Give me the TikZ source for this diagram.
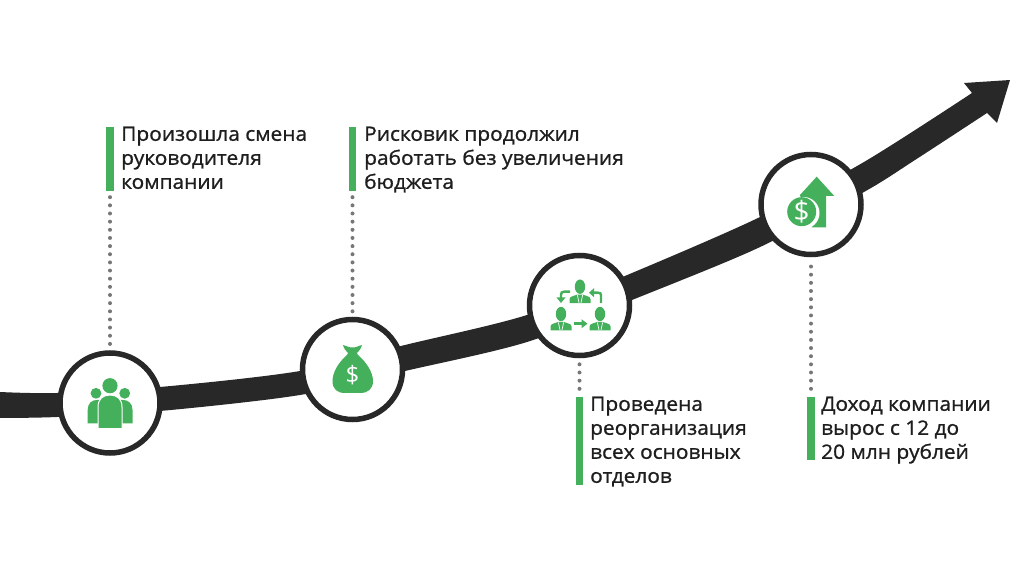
\documentclass[tikz,border=0pt]{standalone}
\usepackage{fontspec}
\setmainfont{Open Sans}[FakeStretch=1.06,FakeBold=1]
\newfontfamily\iconfont{Open Sans}
\usetikzlibrary{calc}
\definecolor{road}{HTML}{282828}
\definecolor{leaf}{HTML}{45B05C}
\definecolor{dotgray}{HTML}{777777}
\definecolor{ink}{HTML}{1E1E1E}
\tikzset{
  x=1pt,y=-1pt,
  stage/.style={circle,draw=road,line width=5.5pt,fill=white,minimum size=100pt,inner sep=0pt},
  bar/.style={rectangle,fill=leaf,minimum width=7.5pt,inner sep=0pt},
  caption/.style={anchor=north west,inner sep=0pt,align=left,text=ink,font=\fontsize{19.7}{24}\selectfont},
  dots/.style={draw=dotgray,line width=4pt,line cap=round,dash pattern=on 0pt off 8.15pt},
  tick/.style={draw=leaf,line width=2.4pt},
  person/.pic={
    \fill[leaf] (0,0) ellipse[x radius=5.2,y radius=7.2];
    \fill[leaf] (-10.5,16.5) -- (-10.5,12.5) .. controls (-10.5,9.5) and (-6,9.5) .. (-3,8) -- (3,8) .. controls (6,9.5) and (10.5,9.5) .. (10.5,12.5) -- (10.5,16.5) -- cycle;
    \draw[white,line width=.7pt] (-2.6,8.5) -- (-1,16) (2.6,8.5) -- (1,16);
  }
}
\begin{document}
\begin{tikzpicture}
\useasboundingbox (0,0) rectangle (1010,561);
\fill[white] (0,0) rectangle (1010,561);
% road
\fill[road] plot[smooth,tension=.5] coordinates {(0,392) (57,393) (160,387) (300,371) (405,345) (527,315) (632,273) (758,218) (864,162) (972,93)}
  -- (964,83) -- (1010,80) -- (997,123) -- (987,113)
  -- plot[smooth,tension=.5] coordinates {(987,113) (915,160) (864,192) (758,248) (632,300) (527,342) (405,371) (300,395) (160,411) (57,417) (0,418)} -- cycle;
% stages
\node[stage] (s1) at (110,403) {};
\node[stage] (s2) at (352.5,369.5) {};
\node[stage] (s3) at (579.5,305.5) {};
\node[stage] (s4) at (811,204.5) {};
% bars
\node[bar,minimum height=64pt] (b1) at (110,159) {};
\node[bar,minimum height=64pt] (b2) at (352.5,159) {};
\node[bar,minimum height=88pt] (b3) at (579.5,441) {};
\node[bar,minimum height=63pt] (b4) at (811,428.5) {};
% captions
\node[caption] (t1) at (121,126.5) {Произошла смена\\руководителя\\компании};
\node[caption] (t2) at (364,126.5) {Рисковик продолжил\\работать без увеличения\\бюджета};
\node[caption] (t3) at (590,396.5) {Проведена\\реорганизация\\всех основных\\отделов};
\node[caption] (t4) at (821,396.5) {Доход компании\\вырос с 12 до\\20 млн рублей};
% dotted connectors
\draw[dots,shorten <=6pt,shorten >=5pt] (b1.south) -- (s1.north);
\draw[dots,shorten <=6pt,shorten >=3pt] (b2.south) -- (s2.north);
\draw[dots,shorten <=8pt,shorten >=6pt] (b3.north) -- (s3.south);
\draw[dots,shorten <=8pt,shorten >=3pt] (b4.north) -- (s4.south);
% icon 1: people
\begin{scope}
\fill[leaf] (96,393.3) circle (5.4) (124.7,393.3) circle (5.4);
\fill[leaf] (87.7,423.3) -- (87.7,410) .. controls (87.7,403) and (92,400) .. (97,400) -- (123,400) .. controls (128,400) and (132.5,403) .. (132.5,410) -- (132.5,423.3) -- cycle;
\fill[leaf,draw=white,line width=1pt] (98,428.5) -- (98,407) .. controls (98,399) and (103,395) .. (110,395) .. controls (117,395) and (122,399) .. (122,407) -- (122,428.5) -- cycle;
\fill[leaf] (110,385.7) circle (7.6);
\end{scope}
% icon 2: money bag
\fill[leaf] (343,345) .. controls (347,346) and (350,348) .. (352.5,347.5) .. controls (355,348) and (358,346) .. (362,345)
  .. controls (361,349) and (359,351) .. (357,353) .. controls (357,354) and (358,355) .. (359,356)
  .. controls (366,362) and (373,372) .. (373,381) .. controls (373,389) and (368,393) .. (360,393)
  -- (345,393) .. controls (337,393) and (332.5,389) .. (332.5,381) .. controls (332.5,372) and (339,362) .. (346,356)
  .. controls (347,355) and (348,354) .. (348,353) .. controls (346,351) and (344,349) .. (343,345) -- cycle;
\node[text=white,font=\iconfont\fontsize{24}{24}\selectfont,inner sep=0pt] (dollar1) at (352.5,375.5) {\$};
% icon 3: reorganisation
\pic at (580,286.7) {person};
\pic at (561,314) {person};
\pic at (600,314) {person};
\draw[tick] (570,291.7) -- (564,291.7) .. controls (562,291.7) and (561,292.7) .. (561,294.7) -- (561,298);
\fill[leaf] (556.5,297.5) -- (565.5,297.5) -- (561,303) -- cycle;
\draw[tick] (601,303) -- (601,295) .. controls (601,293.3) and (600,292.7) .. (598,292.7) -- (593.5,292.7);
\fill[leaf] (594,288.2) -- (594,297.2) -- (589,292.7) -- cycle;
\draw[tick] (574.3,323.7) -- (582,323.7);
\fill[leaf] (581.5,319.2) -- (581.5,328.2) -- (587.5,323.7) -- cycle;
% icon 4: rising money
\fill[leaf] (816.7,176.7) -- (834.3,196) -- (826,196) -- (826,227.3) -- (811.7,227.3) -- (805,215) -- (800,195) -- cycle;
\fill[white] (803.5,213) circle (16);
\fill[leaf] (801.7,211.7) circle (14.5);
\node[text=white,font=\iconfont\fontsize{28}{28}\selectfont,inner sep=0pt] (dollar2) at (801.7,211.7) {\$};
\end{tikzpicture}
\end{document}
